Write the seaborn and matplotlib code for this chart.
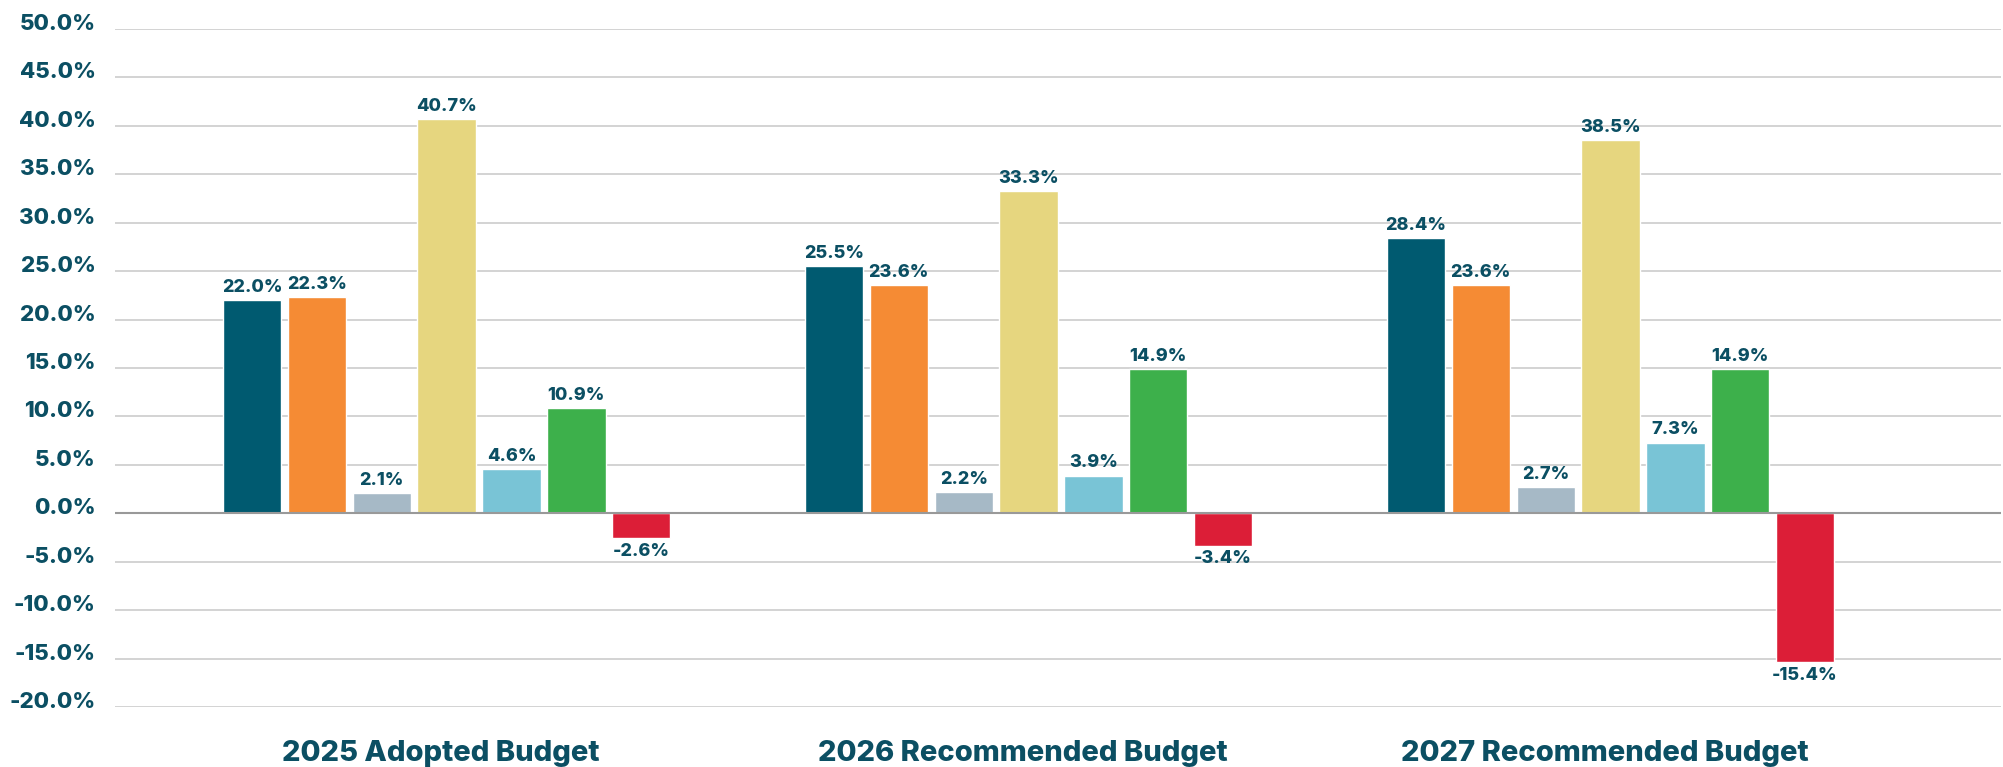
import pandas as pd
import matplotlib
matplotlib.use("Agg")
import matplotlib.pyplot as plt
from matplotlib.transforms import ScaledTranslation
from matplotlib.ticker import FuncFormatter
import seaborn as sns

budgets = ["2025 Adopted Budget", "2026 Recommended Budget", "2027 Recommended Budget"]
series = ["S1", "S2", "S3", "S4", "S5", "S6", "S7"]
colors = ["#005a70", "#f58b34", "#a6b9c6", "#e6d67f", "#79c4d6", "#3db04b", "#dc1e37"]

v2025 = [22.0, 22.3, 2.1, 40.7, 4.6, 10.9, -2.6]
v2026 = [25.5, 23.6, 2.2, 33.3, 3.9, 14.9, -3.4]
v2027 = [28.4, 23.6, 2.7, 38.5, 7.3, 14.9, -15.4]

text_color = "#0b4f63"

rows = []
for b, vals in zip(budgets, [v2025, v2026, v2027]):
    for s, v in zip(series, vals):
        rows.append({"budget": b, "series": s, "pct": v})
df = pd.DataFrame(rows)

sns.set_style("white")
plt.rcParams["font.family"] = ["Inter", "DejaVu Sans"]

fig = plt.figure(figsize=(20.03, 7.67), dpi=100)
ax = fig.add_axes([0.0574, 0.0782, 0.9416, 0.884])

sns.barplot(data=df, x="budget", y="pct", hue="series", palette=colors,
            width=0.78, gap=0.1, saturation=1, legend=False, ax=ax)

for cont in ax.containers:
    ax.bar_label(cont, fmt="%.1f%%", padding=3, color=text_color,
                 fontsize=13, fontweight="heavy")

ax.set_ylim(-20, 50)
ax.set_yticks(range(-20, 51, 5))
ax.yaxis.set_major_formatter(FuncFormatter(lambda v, p: f"{v:.1f}%"))
ax.set_xlim(-0.57, 2.671)

ax.yaxis.grid(True, color="#cccccc", linewidth=1.2)
ax.set_axisbelow(True)
ax.axhline(0, color="#999999", linewidth=1.5, zorder=1)
for sp in ax.spines.values():
    sp.set_visible(False)

ax.tick_params(axis="y", length=0, pad=14, labelsize=16, labelcolor=text_color)
ax.tick_params(axis="x", length=0, pad=24, labelsize=21, labelcolor=text_color)
for lab in ax.get_yticklabels():
    lab.set_fontweight("heavy")
    lab.set_transform(lab.get_transform() + ScaledTranslation(0, 0.07, fig.dpi_scale_trans))
for lab in ax.get_xticklabels():
    lab.set_fontweight("heavy")
    lab.set_transform(lab.get_transform() + ScaledTranslation(-0.06, 0, fig.dpi_scale_trans))

ax.set_xlabel("")
ax.set_ylabel("")

fig.savefig("out.png", dpi=100)
